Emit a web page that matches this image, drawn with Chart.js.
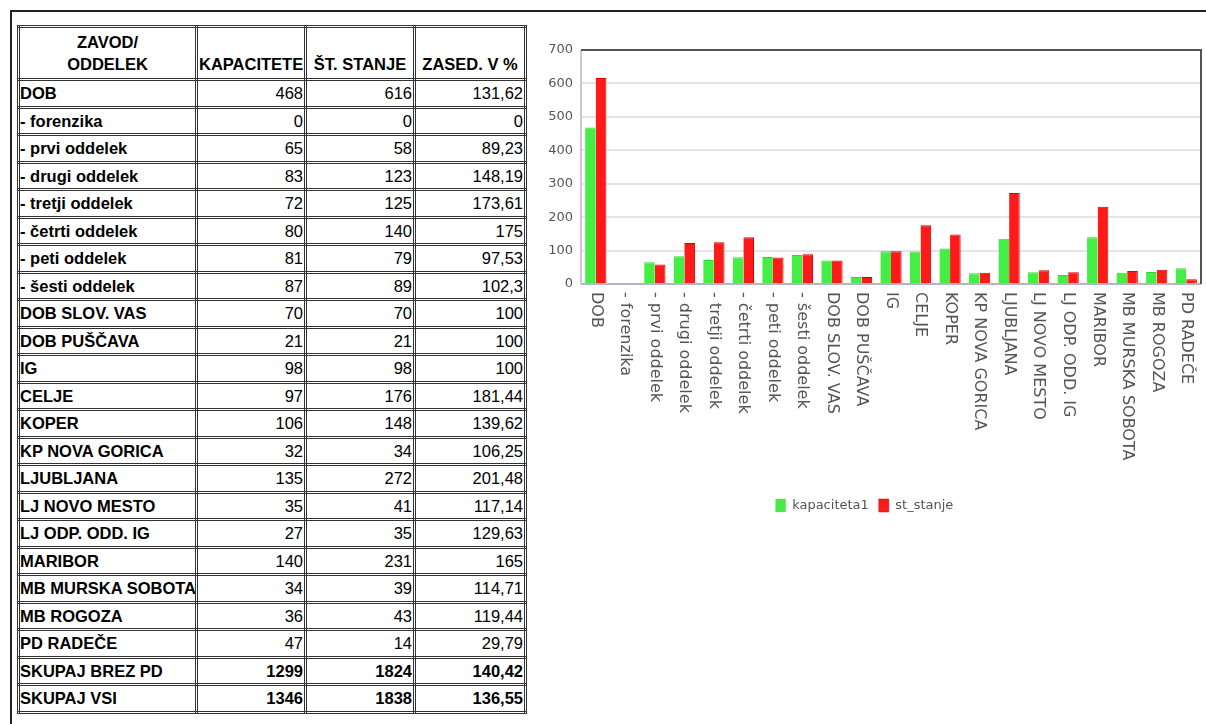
<!DOCTYPE html>
<html><head><meta charset="utf-8">
<script src="https://cdn.jsdelivr.net/npm/chart.js@4.4.1/dist/chart.umd.min.js"></script>
<style>
html,body{margin:0;padding:0;background:#fff;width:1206px;height:724px;overflow:hidden;position:relative}
#frame{position:absolute;left:10px;top:10px;width:1300px;height:800px;border-top:2px solid #222;border-left:2px solid #222}
#tbl{position:absolute;left:17px;top:25px;width:507px;border-collapse:collapse;font-family:"Liberation Sans",Arial,sans-serif;font-size:16.5px;color:#000;table-layout:fixed}
#tbl td,#tbl th{border:3px double #333;padding:0 1px 0 1px;height:24.5px;line-height:20px;white-space:nowrap;overflow:hidden;vertical-align:middle}
#tbl th{font-weight:bold;text-align:center;vertical-align:bottom;height:47px;padding-bottom:3px;line-height:22px}
#tbl td.l{font-weight:bold;text-align:left;padding-left:0}
#tbl td.n{text-align:right}
#tbl tr.tot td{font-weight:bold}
#wrap{position:absolute;left:528px;top:30px;width:676px;height:500px}
</style></head>
<body>
<div id="frame"></div>
<table id="tbl">
<colgroup><col style="width:178px"><col style="width:109px"><col style="width:109px"><col style="width:111px"></colgroup>
<thead><tr><th id="h0"></th><th id="h1"></th><th id="h2"></th><th id="h3"></th></tr></thead>
<tbody id="tb"></tbody>
</table>
<div id="wrap"><canvas id="c" width="676" height="500"></canvas></div>
<script>
const headers = ['ZAVOD/\nODDELEK', 'KAPACITETE', 'ŠT. STANJE', 'ZASED. V %'];
const categories = ['DOB','- forenzika','- prvi oddelek','- drugi oddelek','- tretji oddelek','- četrti oddelek','- peti oddelek','- šesti oddelek','DOB SLOV. VAS','DOB PUŠČAVA','IG','CELJE','KOPER','KP NOVA GORICA','LJUBLJANA','LJ NOVO MESTO','LJ ODP. ODD. IG','MARIBOR','MB MURSKA SOBOTA','MB ROGOZA','PD RADEČE'];
const kapaciteta = [468,0,65,83,72,80,81,87,70,21,98,97,106,32,135,35,27,140,34,36,47];
const stStanje = [616,0,58,123,125,140,79,89,70,21,98,176,148,34,272,41,35,231,39,43,14];
const zasedenost = ['131,62','0','89,23','148,19','173,61','175','97,53','102,3','100','100','100','181,44','139,62','106,25','201,48','117,14','129,63','165','114,71','119,44','29,79'];
const totalLabels = ['SKUPAJ BREZ PD','SKUPAJ VSI'];
const totalKap = [1299,1346];
const totalStanje = [1824,1838];
const totalZased = ['140,42','136,55'];
const seriesNames = ['kapaciteta1','st_stanje'];
const yTicks = [0,100,200,300,400,500,600,700];

// table
headers.forEach((h,i)=>{document.getElementById('h'+i).innerHTML = h.replace('\n','<br>');});
const tb = document.getElementById('tb');
function addRow(cells, cls){
  const tr = document.createElement('tr'); if(cls) tr.className = cls;
  cells.forEach((c,i)=>{const td=document.createElement('td'); td.className = i===0?'l':'n'; td.textContent=c; tr.appendChild(td);});
  tb.appendChild(tr);
}
categories.forEach((c,i)=>addRow([c,kapaciteta[i],stStanje[i],zasedenost[i]]));
totalLabels.forEach((c,i)=>addRow([c,totalKap[i],totalStanje[i],totalZased[i]],'tot'));

// chart
const framePlugin = {
  id:'frame',
  afterDraw(chart){
    const {ctx, chartArea:a, scales} = chart;
    ctx.save();
    ctx.lineWidth = 2;
    ctx.strokeStyle = '#c8c8da';
    ctx.beginPath(); ctx.moveTo(a.left, a.top); ctx.lineTo(a.left, a.bottom); ctx.stroke();
    ctx.strokeStyle = '#b4b4c8';
    ctx.beginPath(); ctx.moveTo(a.left, a.bottom); ctx.lineTo(a.right, a.bottom); ctx.stroke();
    ctx.strokeStyle = '#555';
    ctx.beginPath(); ctx.moveTo(a.left, a.top); ctx.lineTo(a.right, a.top); ctx.lineTo(a.right, a.bottom); ctx.stroke();
    // rotated category labels
    const xs = scales.x;
    ctx.fillStyle = '#555';
    ctx.font = '16px "DejaVu Sans"';
    ctx.textAlign = 'left';
    ctx.textBaseline = 'middle';
    categories.forEach((lab,i)=>{
      const x = xs.getPixelForTick(i);
      ctx.save();
      ctx.translate(x, a.bottom + 8);
      ctx.rotate(Math.PI/2);
      ctx.fillText(lab, 0, 0);
      ctx.restore();
    });
    ctx.restore();
  }
};

new Chart(document.getElementById('c'), {
  type:'bar',
  data:{
    labels: categories,
    datasets:[
      {label:seriesNames[0], data:kapaciteta, backgroundColor:'#44ee44', borderColor:'#33d633', borderWidth:{left:0,right:0,top:1,bottom:0}},
      {label:seriesNames[1], data:stStanje, backgroundColor:'#ff1a1a', borderColor:'#d40000', borderWidth:{left:0,right:1,top:1,bottom:0}}
    ]
  },
  options:{
    responsive:false, animation:false,
    layout:{padding:{top:20,right:3,bottom:8,left:0}},
    datasets:{bar:{categoryPercentage:0.72, barPercentage:1}},
    plugins:{
      legend:{position:'bottom', labels:{boxWidth:10, boxHeight:13, color:'#555', font:{family:'DejaVu Sans', size:13}, padding:10}},
      tooltip:{enabled:false}
    },
    scales:{
      x:{
        grid:{display:false}, border:{display:false},
        ticks:{display:false},
        afterFit(s){ s.height = 205; }
      },
      y:{
        min:0, max:700,
        afterBuildTicks(s){ s.ticks = yTicks.map(v=>({value:v})); },
        grid:{color:'#e4e4ee', lineWidth:2, drawTicks:false},
        border:{display:false},
        ticks:{color:'#555', font:{family:'DejaVu Sans', size:13}, padding:8},
        afterFit(s){ s.width = 53; }
      }
    }
  },
  plugins:[framePlugin]
});
</script>
</body></html>
